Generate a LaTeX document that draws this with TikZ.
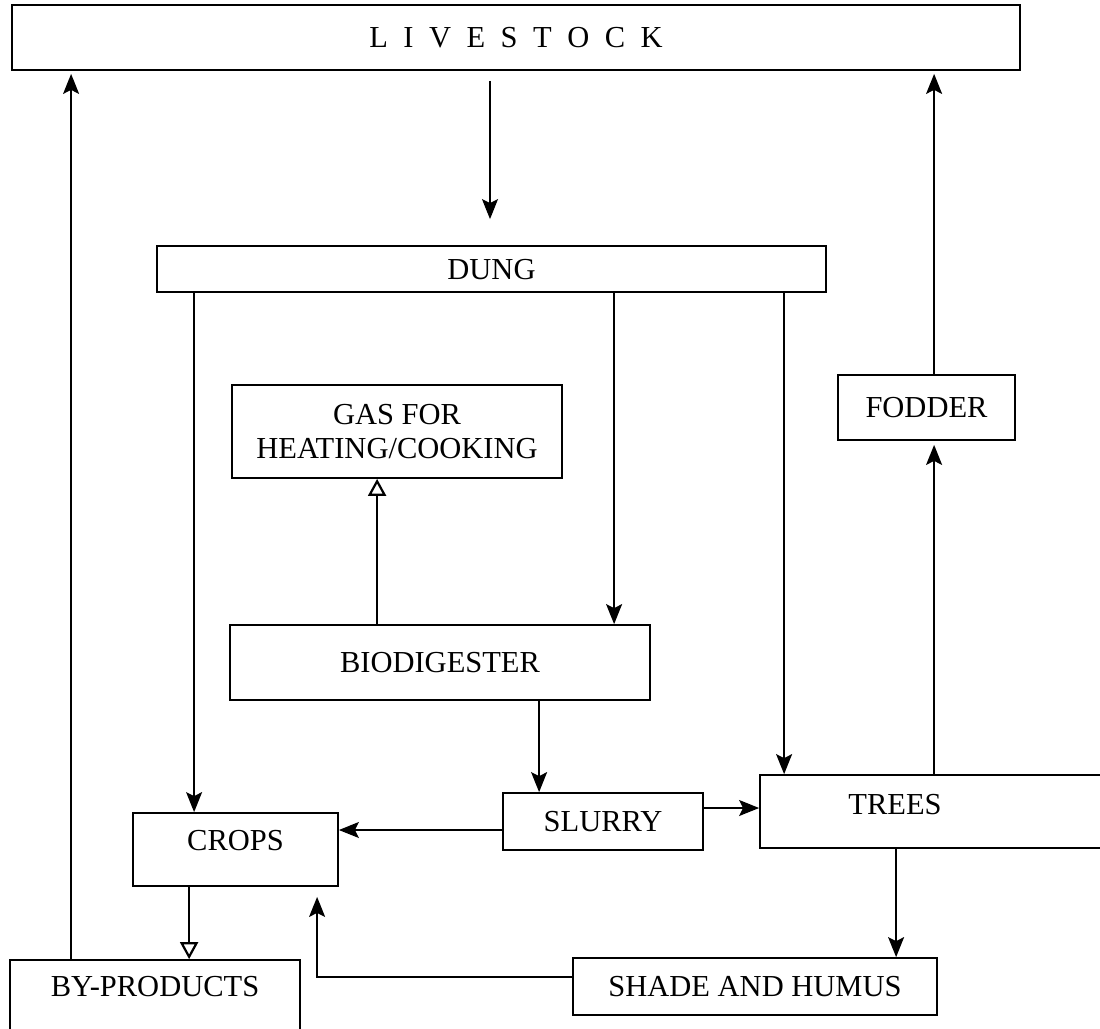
\documentclass[tikz,border=0pt]{standalone}
\usepackage{fontspec}
\setmainfont{Liberation Serif}
\usetikzlibrary{arrows.meta}
\tikzset{
  box/.style={draw, line width=1.8pt, inner sep=0pt, font=\fontsize{30.5}{34}\selectfont, text height=20pt, text depth=0pt, align=center},
  txt/.style={inner sep=0pt, font=\fontsize{30.5}{34}\selectfont},
  arr/.style={line width=1.4pt, -{Stealth[length=20pt, width=16pt, inset=4pt]}},
  oarr/.style={line width=1.4pt, -{Triangle[open, length=17pt, width=18pt, line width=2.2pt]}}
}
\begin{document}
\begin{tikzpicture}[x=1pt, y=-1pt]
\useasboundingbox[fill=white] (0,0) rectangle (1100,1028);
% boxes
\node[box, minimum width=1008pt, minimum height=65pt] (livestock) at (516,37.5)
  {L\hspace{15.5pt}I\hspace{15.5pt}V\hspace{15.5pt}E\hspace{15.5pt}S\hspace{15.5pt}T\hspace{15.5pt}O\hspace{15.5pt}C\hspace{15.5pt}K};
\node[box, minimum width=669pt, minimum height=46pt] (dung) at (491.5,269) {DUNG};
\node[box, minimum width=330pt, minimum height=93pt, text height=, text depth=] (gas) at (397,431.5) {GAS FOR\\HEATING/COOKING};
\node[box, minimum width=177pt, minimum height=65pt] (fodder) at (926.5,407.5) {FODDER};
\node[box, minimum width=420pt, minimum height=75pt] (bio) at (440,662.5) {BIODIGESTER};
\node[box, minimum width=200pt, minimum height=57pt] (slurry) at (603,821.5) {SLURRY};
\node[box, minimum width=346pt, minimum height=73pt] (trees) at (933,811.5) {};
\node[txt] (treestext) at (895,805) {TREES};
\node[box, minimum width=205pt, minimum height=73pt, text depth=19pt] (crops) at (235.5,849.5) {CROPS};
\node[box, minimum width=290pt, minimum height=78pt, text depth=25pt] (byproducts) at (155,999) {BY-PRODUCTS};
\node[box, minimum width=364pt, minimum height=57pt] (shade) at (755,986.5) {SHADE AND HUMUS};
% connectors
\draw[arr, shorten <=10pt, shorten >=26pt] ([xshift=-26pt]livestock.south) -- ([xshift=-1.5pt]dung.north);
\draw[arr, shorten >=3pt] ([xshift=62pt]byproducts.north west) -- ([xshift=60pt]livestock.south west);
\draw[arr, shorten >=3pt] ([xshift=97pt]fodder.north west) -- ([xshift=923pt]livestock.south west);
\draw[arr] ([xshift=38pt]dung.south west) -- ([xshift=62pt]crops.north west);
\draw[arr] ([xshift=458pt]dung.south west) -- ([xshift=385pt]bio.north west);
\draw[arr] ([xshift=628pt]dung.south west) -- ([xshift=25pt]trees.north west);
\draw[oarr] ([xshift=148pt]bio.north west) -- ([xshift=146pt]gas.south west);
\draw[arr] ([xshift=310pt]bio.south west) -- ([xshift=37pt]slurry.north west);
\draw[arr] ([yshift=-8.5pt]slurry.west) -- ([yshift=19.5pt]crops.east);
\draw[arr] ([yshift=13.5pt]slurry.east) -- ([yshift=3.5pt]trees.west);
\draw[arr, shorten >=4pt] ([xshift=175pt]trees.north west) -- ([xshift=97pt]fodder.south west);
\draw[oarr] ([xshift=57pt]crops.south west) -- ([xshift=180pt]byproducts.north west);
\draw[arr] ([xshift=137pt]trees.south west) -- ([xshift=324pt]shade.north west);
\draw[arr] ([yshift=9.5pt]shade.west) -| ([xshift=185pt, yshift=-10pt]crops.south west);
\end{tikzpicture}
\end{document}
